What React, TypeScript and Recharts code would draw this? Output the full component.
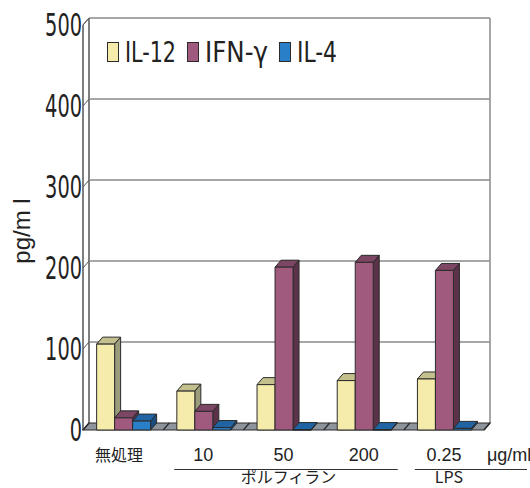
import React from "react";
import { BarChart, Bar, XAxis, YAxis, CartesianGrid, Legend } from "recharts";

const categories = ["無処理", "10", "50", "200", "0.25"];
const il12 = [106, 48, 56, 61, 63];
const ifng = [15, 23, 201, 207, 197];
const il4 = [11, 3, 0.5, 0.5, 2];
const yTicks = [0, 100, 200, 300, 400, 500];

const seriesKeys = ["il12", "ifng", "il4"];
const seriesNames = ["IL-12", "IFN-γ", "IL-4"];
const frontColors = ["#f5ebaa", "#a05a7e", "#2a80c8"];
const topColors = ["#c3c08e", "#7c4664", "#2064a4"];
const sideColors = ["#9b9c7b", "#5b3249", "#1a4e80"];

const groups = [
  { label: "ポルフィラン", first: 1, last: 3 },
  { label: "LPS", first: 4, last: 4 },
];
const unitLabel = "μg/ml";
const yLabel = "pg/m l";

const data = categories.map((name, i) => ({
  name,
  il12: il12[i],
  ifng: ifng[i],
  il4: il4[i],
}));

// layout
const W = 530;
const H = 488;
const LEFT = 89;
const TOP = 18;
const RIGHT = 490;
const BOTTOM = 423;
const DX = 6; // depth offset (front is left/down of back wall)
const DY = 7;
const PLOT_W = RIGHT - LEFT;
const BAND = PLOT_W / categories.length;
const EDGE = "#2b2b2b";
const GRID = "#8a8a8a";
const NARROW = "'Liberation Sans Narrow', 'DejaVu Sans Condensed', sans-serif";
const SANS = "'Liberation Sans', Arial, sans-serif";

function Box(props: any) {
  const { x, y, width, height, idx } = props;
  if (x == null || y == null) return null;
  const w = width;
  const h = Math.max(height, 0.6);
  const fx = x - DX;
  const fy = y + DY;
  return (
    <g stroke={EDGE} strokeWidth={1} strokeLinejoin="round">
      <polygon
        points={`${fx},${fy} ${fx + w},${fy} ${x + w},${y} ${x},${y}`}
        fill={topColors[idx]}
      />
      <polygon
        points={`${fx + w},${fy} ${x + w},${y} ${x + w},${y + h} ${fx + w},${fy + h}`}
        fill={sideColors[idx]}
      />
      <rect x={fx} y={fy} width={w} height={h} fill={frontColors[idx]} />
    </g>
  );
}

function GridLine(props: any) {
  const { y1, x1, x2 } = props;
  if (Math.abs(y1 - BOTTOM) < 1) {
    const dividers = categories.map((_, i) => LEFT + BAND * i).concat([RIGHT]);
    return (
      <g>
        <line x1={LEFT} y1={TOP} x2={LEFT} y2={BOTTOM} stroke="#555" strokeWidth={1.5} />
        <line x1={LEFT - DX} y1={TOP + DY} x2={LEFT - DX} y2={BOTTOM + DY} stroke="#555" strokeWidth={1.5} />
        <line x1={LEFT - DX} y1={TOP + DY} x2={LEFT} y2={TOP} stroke="#555" strokeWidth={1} />
        <line x1={RIGHT} y1={TOP} x2={RIGHT} y2={BOTTOM} stroke={GRID} strokeWidth={1.5} />
        <polygon
          points={`${LEFT},${BOTTOM} ${RIGHT},${BOTTOM} ${RIGHT - DX},${BOTTOM + DY} ${LEFT - DX},${BOTTOM + DY}`}
          fill="#8d949c"
          stroke={EDGE}
          strokeWidth={1.2}
        />
        {dividers.map((dx, i) => (
          <line key={i} x1={dx} y1={BOTTOM} x2={dx - DX} y2={BOTTOM + DY} stroke={EDGE} strokeWidth={1.2} />
        ))}
      </g>
    );
  }
  return (
    <g>
      <line x1={x1} y1={y1} x2={x2} y2={y1} stroke={GRID} strokeWidth={1.5} />
      <line x1={LEFT} y1={y1} x2={LEFT - DX} y2={y1 + DY} stroke="#555" strokeWidth={1} />
    </g>
  );
}

function YTick(props: any) {
  const { y, payload } = props;
  const s = String(payload.value);
  return (
    <text
      x={82}
      y={y + 18}
      textAnchor="end"
      fontFamily={NARROW}
      fontSize={32}
      fill="#222"
      textLength={12.3 * s.length}
      lengthAdjust="spacingAndGlyphs"
    >
      {s}
    </text>
  );
}

function XTick(props: any) {
  const { x, payload } = props;
  const i = payload.index;
  const cx = x - DX;
  const isCjk = /[^\x00-\x7f]/.test(payload.value);
  const group = groups.find((g) => g.first === i);
  return (
    <g>
      <text
        x={isCjk ? cx - 4 : cx}
        y={461}
        textAnchor="middle"
        fontFamily={isCjk ? "'Noto Sans CJK JP', sans-serif" : SANS}
        fontSize={isCjk ? 16 : 18}
        fill="#222"
      >
        {payload.value}
      </text>
      {i === categories.length - 1 && (
        <text x={cx + 43} y={461} fontFamily={SANS} fontSize={18} fill="#222">
          {unitLabel}
        </text>
      )}
      {group && (
        <g>
          <line
            x1={cx - BAND / 2 + 11}
            x2={
              group.last === categories.length - 1
                ? W - 3
                : cx + BAND * (group.last - group.first) + BAND / 2 - 6
            }
            y1={469.5}
            y2={469.5}
            stroke="#333"
            strokeWidth={1}
          />
          <text
            x={cx + (BAND * (group.last - group.first)) / 2 + 5}
            y={483}
            textAnchor="middle"
            fontFamily={"'Noto Sans CJK JP', " + SANS}
            fontSize={16}
            fill="#222"
          >
            {group.label}
          </text>
        </g>
      )}
    </g>
  );
}

const legendTextWidths = [51, 63, 40];

function LegendBox() {
  let pos = 0;
  const items = seriesNames.map((name, i) => {
    const x0 = pos;
    pos += 18 + legendTextWidths[i] + 11;
    return (
      <g key={name}>
        <rect x={x0 + 0.5} y={0.5} width={11} height={19} fill={frontColors[i]} stroke={EDGE} strokeWidth={1} />
        <text
          x={x0 + 18}
          y={20}
          fontFamily={NARROW}
          fontSize={28}
          fill="#222"
          textLength={legendTextWidths[i]}
          lengthAdjust="spacingAndGlyphs"
        >
          {name}
        </text>
      </g>
    );
  });
  return (
    <svg width={260} height={26} style={{ display: "block", overflow: "visible" }}>
      {items}
    </svg>
  );
}

export default function App() {
  return (
    <div style={{ position: "absolute", left: 0, top: 0, width: W, height: H, background: "#fff" }}>
      <BarChart
        width={W}
        height={H}
        data={data}
        margin={{ top: TOP, right: W - RIGHT, bottom: 0, left: 0 }}
        barCategoryGap="17%"
        barGap={0}
      >
        <CartesianGrid vertical={false} horizontal={(p: any) => <GridLine {...p} />} />
        <XAxis
          dataKey="name"
          height={H - BOTTOM}
          axisLine={false}
          tickLine={false}
          interval={0}
          tick={(p: any) => <XTick {...p} />}
        />
        <YAxis
          width={LEFT}
          domain={[0, 500]}
          ticks={yTicks}
          axisLine={false}
          tickLine={false}
          tick={(p: any) => <YTick {...p} />}
          label={{
            value: yLabel,
            angle: -90,
            position: "insideLeft",
            content: () => (
              <text
                x={30}
                y={231}
                transform="rotate(-90 30 231)"
                textAnchor="middle"
                fontFamily={SANS}
                fontSize={24}
                fill="#222"
              >
                {yLabel}
              </text>
            ),
          }}
        />
        <Legend
          layout="vertical"
          verticalAlign="middle"
          align="center"
          wrapperStyle={{ left: 107, top: 42, width: 260 }}
          content={() => <LegendBox />}
        />
        {seriesKeys.map((k, i) => (
          <Bar
            key={k}
            dataKey={k}
            name={seriesNames[i]}
            fill={frontColors[i]}
            isAnimationActive={false}
            shape={(p: any) => <Box {...p} idx={i} />}
          />
        ))}
      </BarChart>
    </div>
  );
}
